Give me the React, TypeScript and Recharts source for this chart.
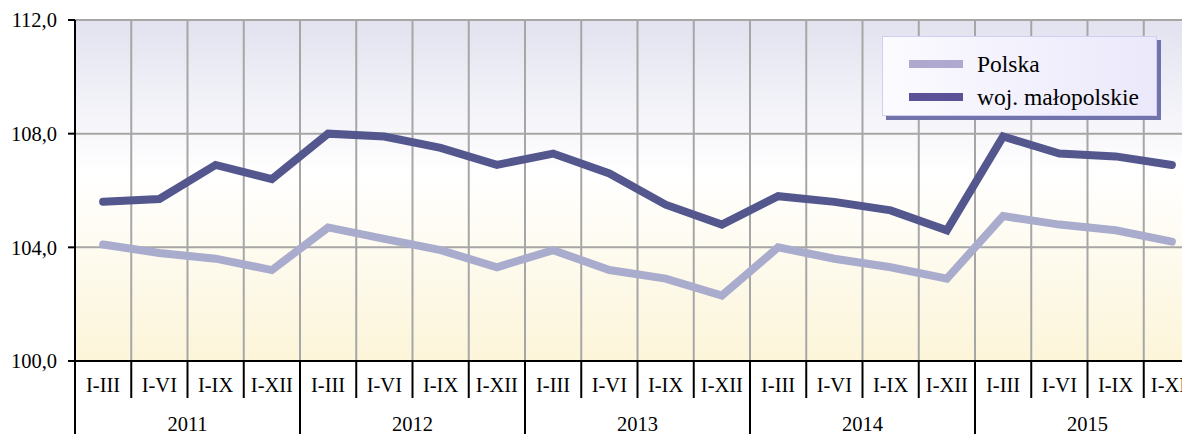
import React from "react";
import { LineChart, Line, XAxis, YAxis, CartesianGrid, Legend } from "recharts";

const years = ["2011", "2012", "2013", "2014", "2015"];
const quarters = ["I-III", "I-VI", "I-IX", "I-XII"];

const polska = [
  104.1, 103.8, 103.6, 103.2,
  104.7, 104.3, 103.9, 103.3,
  103.9, 103.2, 102.9, 102.3,
  104.0, 103.6, 103.3, 102.9,
  105.1, 104.8, 104.6, 104.2,
];
const malopolskie = [
  105.6, 105.7, 106.9, 106.4,
  108.0, 107.9, 107.5, 106.9,
  107.3, 106.6, 105.5, 104.8,
  105.8, 105.6, 105.3, 104.6,
  107.9, 107.3, 107.2, 106.9,
];
const yTicks = [100, 104, 108, 112];

const data = polska.map((p, i) => ({
  id: `${years[Math.floor(i / 4)]} ${quarters[i % 4]}`,
  polska: p,
  malopolskie: malopolskie[i],
}));

const CHART_W = 1210;
const CHART_H = 434;
const Y_W = 75;
const X_H = 73;
const M_RIGHT = 10;
const band = (CHART_W - Y_W - M_RIGHT) / data.length;
const font = "'Liberation Serif', 'Times New Roman', serif";

const XTick = (props: any) => {
  const { x, y, index } = props;
  const left = x - band / 2;
  const yearStart = index % 4 === 0;
  return (
    <g>
      <line x1={left} y1={y} x2={left} y2={y + (yearStart ? X_H : 37)} stroke="#000" strokeWidth={2} />
      <text x={x} y={y + 31} textAnchor="middle" fontSize={20.5} fontFamily={font} fill="#000">
        {quarters[index % 4]}
      </text>
      {yearStart && (
        <text x={left + 2 * band} y={y + 70} textAnchor="middle" fontSize={20.5} fontFamily={font} fill="#000">
          {years[Math.floor(index / 4)]}
        </text>
      )}
    </g>
  );
};

const legendColors: Record<string, string> = {
  polska: "#afa9d0",
  malopolskie: "#5a5196",
};

const LegendBox = (props: any) => {
  const items = props.payload || [];
  return (
    <div
      style={{
        position: "relative",
        width: 273,
        height: 78,
        border: "1px solid #cfcff3",
        boxShadow: "4px 4px 0 #7373ab",
        background: "linear-gradient(to right, #fbfbff, #ebe8fb)",
        fontFamily: font,
        fontSize: 23.5,
        color: "#000",
      }}
    >
      {items.map((it: any, i: number) => (
        <div key={it.value} style={{ position: "absolute", left: 26, top: 12 + i * 33, height: 30, display: "flex", alignItems: "center" }}>
          <span style={{ display: "inline-block", width: 54, height: 8, background: legendColors[it.dataKey] || it.color }} />
          <span style={{ marginLeft: 14, whiteSpace: "nowrap" }}>{it.value}</span>
        </div>
      ))}
    </div>
  );
};

export default function App() {
  return (
    <div style={{ marginLeft: -8, marginTop: -8, width: 1190, height: 434, overflow: "hidden", position: "relative" }}>
      <LineChart width={CHART_W} height={CHART_H} data={data} margin={{ top: 20, right: M_RIGHT, left: 0, bottom: 0 }}>
        <defs>
          <linearGradient id="plotBg" x1="0" y1="0" x2="0" y2="1">
            <stop offset="0%" stopColor="#e2e2f0" />
            <stop offset="45%" stopColor="#ffffff" />
            <stop offset="100%" stopColor="#fcf5d9" />
          </linearGradient>
        </defs>
        <CartesianGrid
          fill="url(#plotBg)"
          stroke="#a6a6a6"
          strokeWidth={2}
          verticalCoordinatesGenerator={({ offset }: any) =>
            data.map((_, i) => offset.left + (i + 1) * (offset.width / data.length))
          }
        />
        <XAxis
          dataKey="id"
          scale="band"
          height={X_H}
          interval={0}
          tickSize={0}
          tickMargin={0}
          tickLine={false}
          axisLine={{ stroke: "#000", strokeWidth: 2 }}
          tick={<XTick />}
        />
        <YAxis
          width={Y_W}
          domain={[100, 112]}
          ticks={yTicks}
          interval={0}
          tickSize={7}
          tickMargin={11}
          tickFormatter={(v: number) => v.toFixed(1).replace(".", ",")}
          tick={{ fill: "#000", fontSize: 20.5, fontFamily: font }}
          tickLine={{ stroke: "#000", strokeWidth: 2 }}
          axisLine={{ stroke: "#000", strokeWidth: 2 }}
        />
        <Legend
          layout="vertical"
          align="center"
          verticalAlign="middle"
          content={<LegendBox />}
          wrapperStyle={{ left: 882, top: 36, width: 280, height: 84 }}
        />
        <Line
          dataKey="polska"
          name="Polska"
          stroke="#aaaccd"
          strokeWidth={8}
          strokeLinecap="round"
          dot={false}
          activeDot={false}
          isAnimationActive={false}
        />
        <Line
          dataKey="malopolskie"
          name="woj. małopolskie"
          stroke="#53578e"
          strokeWidth={8}
          strokeLinecap="round"
          dot={false}
          activeDot={false}
          isAnimationActive={false}
        />
      </LineChart>
    </div>
  );
}
